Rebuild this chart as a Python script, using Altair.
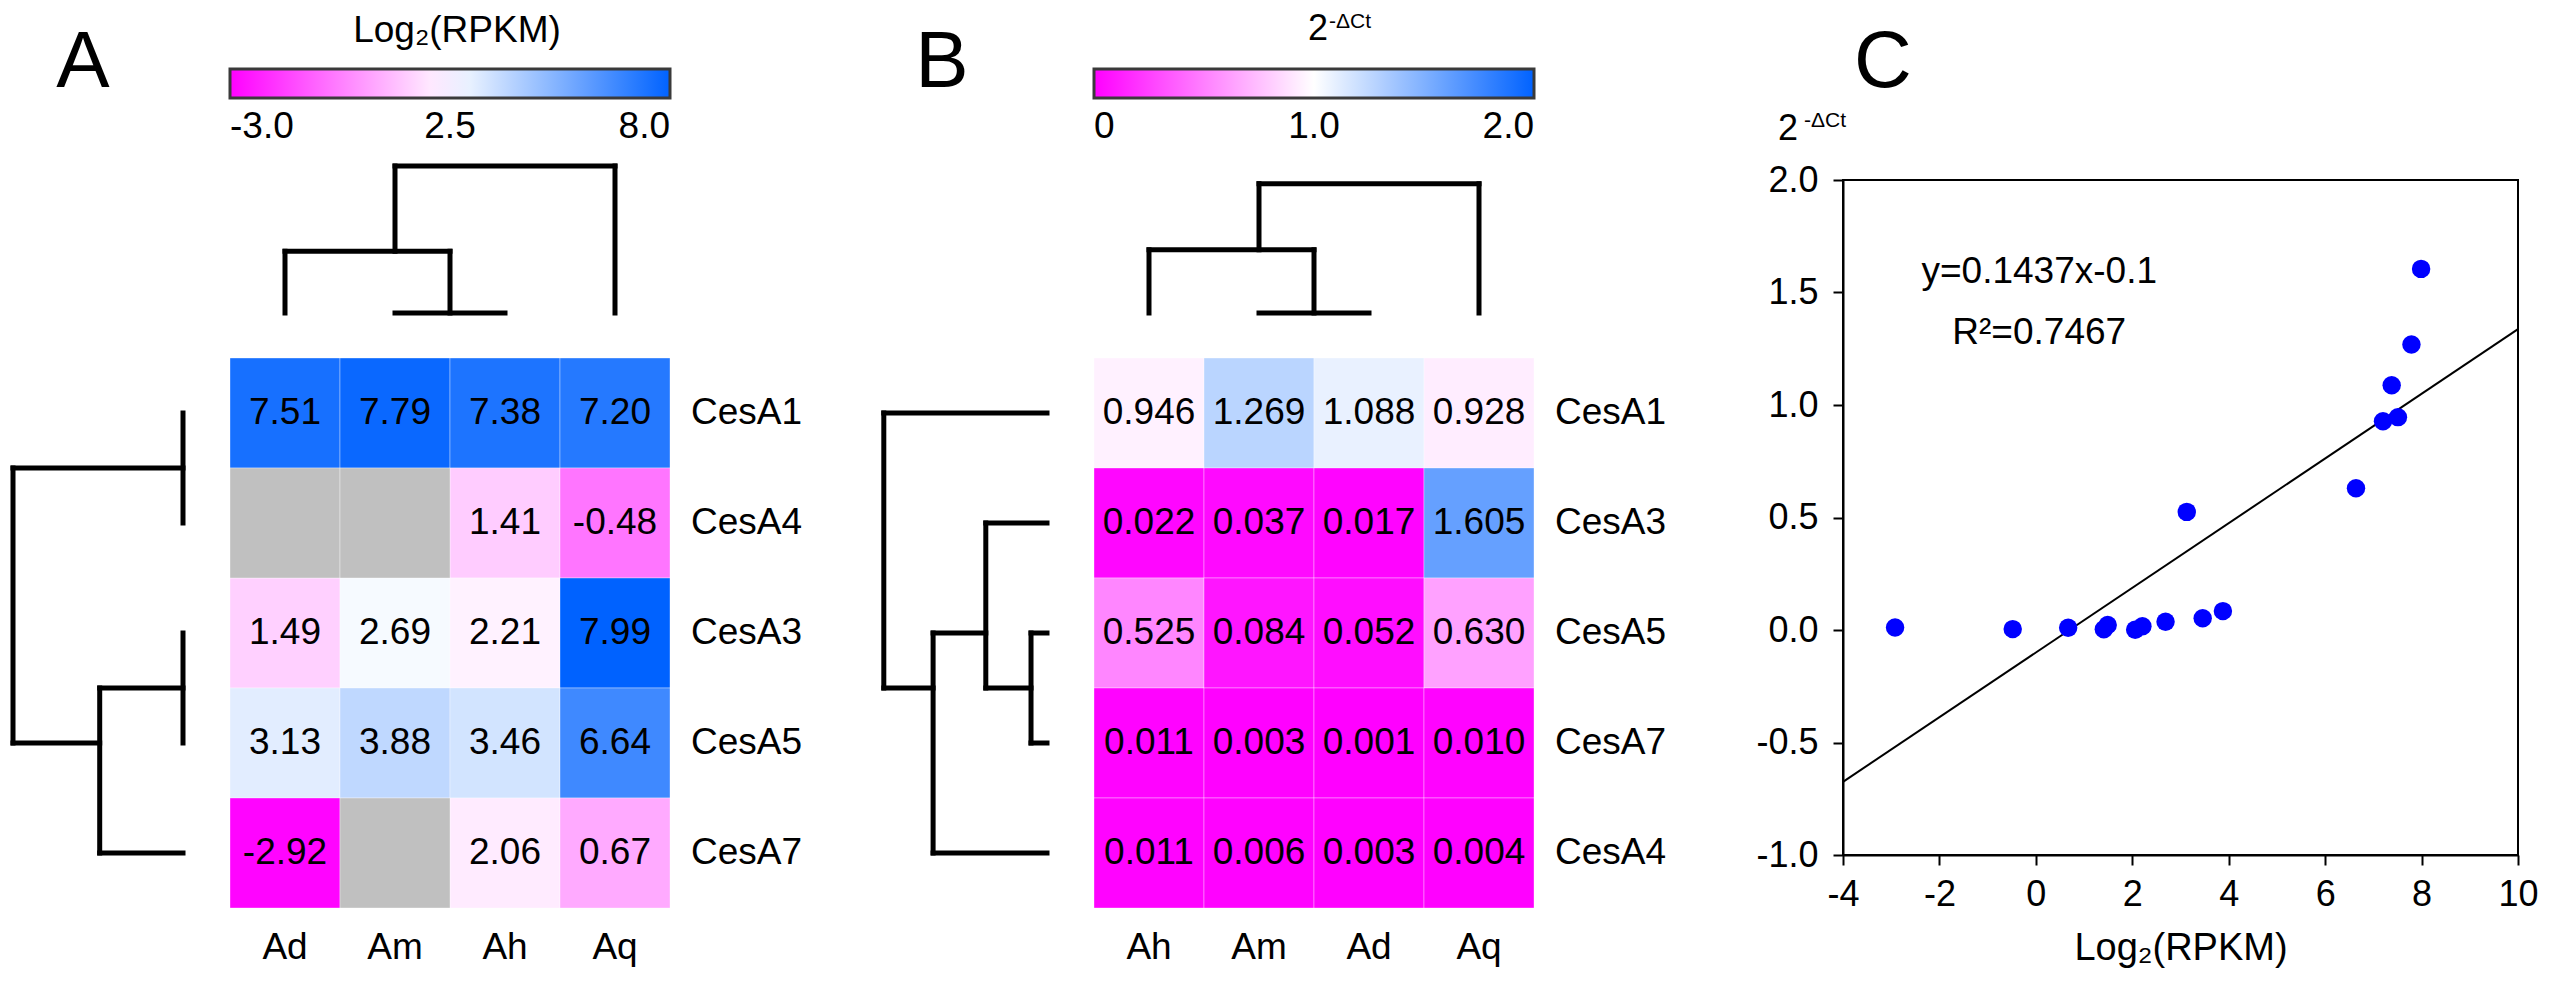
import altair as alt
import pandas as pd

FONT = "Liberation Sans"

# ---------------- Panel A : Log2(RPKM) heatmap ----------------
cols_A = ["Ad", "Am", "Ah", "Aq"]
rows_A = ["CesA1", "CesA4", "CesA3", "CesA5", "CesA7"]
vals_A = [
    [7.51, 7.79, 7.38, 7.20],
    [None, None, 1.41, -0.48],
    [1.49, 2.69, 2.21, 7.99],
    [3.13, 3.88, 3.46, 6.64],
    [-2.92, None, 2.06, 0.67],
]
# dendrogram merges: (child, child, height); "#k" refers to the k-th merge
dend_A_cols = [("Am", "Ah", 0.0), ("Ad", "#0", 0.42), ("#1", "Aq", 1.0)]
dend_A_rows = [("CesA1", "CesA4", 0.0), ("CesA3", "CesA5", 0.0),
               ("#1", "CesA7", 0.49), ("#0", "#2", 1.0)]
legend_A_domain = [-3.0, 2.5, 8.0]

# ---------------- Panel B : 2^-dCt heatmap ----------------
cols_B = ["Ah", "Am", "Ad", "Aq"]
rows_B = ["CesA1", "CesA3", "CesA5", "CesA7", "CesA4"]
vals_B = [
    [0.946, 1.269, 1.088, 0.928],
    [0.022, 0.037, 0.017, 1.605],
    [0.525, 0.084, 0.052, 0.630],
    [0.011, 0.003, 0.001, 0.010],
    [0.011, 0.006, 0.003, 0.004],
]
dend_B_cols = [("Am", "Ad", 0.0), ("Ah", "#0", 0.43), ("#1", "Aq", 0.88)]
dend_B_rows = [("CesA5", "CesA7", 0.094), ("CesA3", "#0", 0.36),
               ("#1", "CesA4", 0.67), ("CesA1", "#2", 0.96)]
legend_B_domain = [0.0, 1.0, 2.0]

# ---------------- Panel C : scatter ----------------
c_x = [-2.92, -0.48, 0.67, 1.41, 1.49, 2.06, 2.21, 2.69, 3.13, 3.46, 3.88,
       6.64, 7.20, 7.38, 7.51, 7.79, 7.99]
c_y = [0.011, 0.004, 0.010, 0.003, 0.022, 0.001, 0.017, 0.037, 0.525, 0.052, 0.084,
       0.630, 0.928, 1.088, 0.946, 1.269, 1.605]
fit_slope = 0.1437
fit_intercept = -0.1
fit_r2 = 0.7467
fit_x = [-4, 10]
c_xticks = [-4, -2, 0, 2, 4, 6, 8, 10]
c_yticks = [-1.0, -0.5, 0.0, 0.5, 1.0, 1.5, 2.0]

COLORS = ["#ff00ff", "#ffffff", "#0062ff"]
MISSING = "#c0c0c0"

# layout (pixels inside each panel)
COL_RANGE = [222, 662]
ROW_RANGE = [350, 900]
RD_RANGE = [175, 5]
CD_RANGE = [305, 158]
PANEL_H = 960

one = pd.DataFrame({"k": [0]})


def heat_df(rows, cols, vals, decimals):
    recs = []
    for ri, r in enumerate(rows):
        for ci, c in enumerate(cols):
            v = vals[ri][ci]
            recs.append({"row": r, "col": c, "ri": ri, "ci": ci,
                         "v": v, "has": v is not None,
                         "lab": "" if v is None else f"{v:.{decimals}f}"})
    return pd.DataFrame(recs)


def dendro_segments(merges, leaves):
    pos = {n: float(i) for i, n in enumerate(leaves)}
    hgt = {n: 0.0 for n in leaves}
    mem = {n: [i] for i, n in enumerate(leaves)}
    segs = []
    for k, (a, b, h) in enumerate(merges):
        for c in (a, b):
            if hgt[c] != h:
                segs.append({"p1": pos[c], "p2": pos[c], "h1": hgt[c], "h2": h})
        segs.append({"p1": pos[a], "p2": pos[b], "h1": h, "h2": h})
        key = f"#{k}"
        mem[key] = mem[a] + mem[b]
        pos[key] = sum(mem[key]) / len(mem[key])
        hgt[key] = h
    return pd.DataFrame(segs)


def heat_panel(rows, cols, vals, decimals, merges_c, merges_r, cdomain,
               label_expr, letter, letter_x, extra_layers, width):
    df = heat_df(rows, cols, vals, decimals)
    nx, ny = len(cols), len(rows)
    xs = alt.Scale(domain=[-0.5, nx - 0.5], range=COL_RANGE, nice=False, zero=False)
    ys = alt.Scale(domain=[-0.5, ny - 0.5], range=ROW_RANGE, nice=False, zero=False)
    hs_c = alt.Scale(domain=[0, 1], range=CD_RANGE, nice=False, zero=False)
    hs_r = alt.Scale(domain=[0, 1], range=RD_RANGE, nice=False, zero=False)

    base = alt.Chart(df).transform_calculate(
        x0="datum.ci - 0.5", x1="datum.ci + 0.5",
        y0="datum.ri - 0.5", y1="datum.ri + 0.5")

    legend = alt.Legend(
        orient="none", legendX=COL_RANGE[0], legendY=61, direction="horizontal",
        gradientLength=COL_RANGE[1] - COL_RANGE[0], gradientThickness=29,
        title=None, values=cdomain, labelExpr=label_expr,
        labelAlign="center", labelBaseline="top", labelOffset=11,
        labelFontSize=37, labelFont=FONT, labelColor="black",
        gradientStrokeColor="#3a3a3a", gradientStrokeWidth=3, padding=0)

    cells = base.transform_filter("datum.has").mark_rect(
        stroke="white", strokeWidth=1, strokeOpacity=0.35).encode(
        x=alt.X("x0:Q", scale=xs, axis=None), x2="x1:Q",
        y=alt.Y("y0:Q", scale=ys, axis=None), y2="y1:Q",
        color=alt.Color("v:Q", scale=alt.Scale(domain=cdomain, range=COLORS,
                                               interpolate="rgb"),
                        legend=legend))
    missing = base.transform_filter("!datum.has").mark_rect(
        fill=MISSING, stroke="white", strokeWidth=1, strokeOpacity=0.35).encode(
        x=alt.X("x0:Q", scale=xs, axis=None), x2="x1:Q",
        y=alt.Y("y0:Q", scale=ys, axis=None), y2="y1:Q")
    values = base.transform_filter("datum.has").mark_text(
        fontSize=37, font=FONT, color="black", baseline="middle").encode(
        x=alt.X("ci:Q", scale=xs, axis=None),
        y=alt.Y("ri:Q", scale=ys, axis=None),
        text="lab:N")
    rowlab = alt.Chart(pd.DataFrame({"name": rows, "ri": list(range(ny))})).mark_text(
        align="left", baseline="middle", dx=21, fontSize=37, font=FONT, color="black").encode(
        x=alt.XDatum(nx - 0.5, scale=xs, axis=None),
        y=alt.Y("ri:Q", scale=ys, axis=None),
        text="name:N")
    collab = alt.Chart(pd.DataFrame({"name": cols, "ci": list(range(nx))})).mark_text(
        align="center", baseline="middle", dy=40, fontSize=37, font=FONT, color="black").encode(
        x=alt.X("ci:Q", scale=xs, axis=None),
        y=alt.YDatum(ny - 0.5, scale=ys, axis=None),
        text="name:N")
    coldend = alt.Chart(dendro_segments(merges_c, cols)).mark_rule(
        color="black", strokeWidth=5, strokeCap="square").encode(
        x=alt.X("p1:Q", scale=xs, axis=None), x2="p2:Q",
        y=alt.Y("h1:Q", scale=hs_c, axis=None), y2="h2:Q")
    rowdend = alt.Chart(dendro_segments(merges_r, rows)).mark_rule(
        color="black", strokeWidth=5, strokeCap="square").encode(
        x=alt.X("h1:Q", scale=hs_r, axis=None), x2="h2:Q",
        y=alt.Y("p1:Q", scale=ys, axis=None), y2="p2:Q")
    letter_layer = alt.Chart(one).mark_text(
        text=letter, fontSize=80, font=FONT, align="center", baseline="alphabetic",
        color="black").encode(x=alt.value(letter_x), y=alt.value(79))

    return alt.layer(rowdend, coldend, cells, missing, values, rowlab, collab,
                     letter_layer, *extra_layers).resolve_scale(
        x="independent", y="independent", color="independent").properties(
        width=width, height=PANEL_H)


# colourbar titles
lgA_scale = alt.Scale(domain=[legend_A_domain[0], legend_A_domain[-1]], range=COL_RANGE,
                      nice=False, zero=False)
title_A = alt.Chart(one).mark_text(
    text="Log₂(RPKM)", fontSize=37, font=FONT, align="center", baseline="alphabetic",
    dx=7, color="black").encode(
    x=alt.XDatum(legend_A_domain[1], scale=lgA_scale, axis=None), y=alt.value(34))

lgB_scale = alt.Scale(domain=[legend_B_domain[0], legend_B_domain[-1]], range=COL_RANGE,
                      nice=False, zero=False)
title_B1 = alt.Chart(one).mark_text(
    text="2", fontSize=36, font=FONT, align="center", baseline="alphabetic",
    dx=4, color="black").encode(
    x=alt.XDatum(legend_B_domain[1], scale=lgB_scale, axis=None), y=alt.value(32))
title_B2 = alt.Chart(one).mark_text(
    text="-ΔCt", fontSize=21, font=FONT, align="left", baseline="alphabetic",
    dx=15, color="black").encode(
    x=alt.XDatum(legend_B_domain[1], scale=lgB_scale, axis=None), y=alt.value(20))

expr_A = "(datum.value < 0 ? '-' : '') + format(abs(datum.value), '.1f')"
expr_B = "datum.value == 0 ? '0' : format(datum.value, '.1f')"

panel_A = heat_panel(rows_A, cols_A, vals_A, 2, dend_A_cols, dend_A_rows,
                     legend_A_domain, expr_A, "A", 75, [title_A], 864)
panel_B = heat_panel(rows_B, cols_B, vals_B, 3, dend_B_cols, dend_B_rows,
                     legend_B_domain, expr_B, "B", 70, [title_B1, title_B2], 971)

# ---------------- Panel C ----------------
head_C = alt.layer(
    alt.Chart(one).mark_text(text="C", fontSize=80, font=FONT, align="center",
                             baseline="alphabetic", color="black").encode(
        x=alt.value(40), y=alt.value(79)),
    alt.Chart(one).mark_text(text="2", fontSize=36, font=FONT, align="center",
                             baseline="alphabetic", color="black").encode(
        x=alt.value(-55), y=alt.value(132)),
    alt.Chart(one).mark_text(text="-ΔCt", fontSize=21, font=FONT, align="left",
                             baseline="alphabetic", color="black").encode(
        x=alt.value(-39), y=alt.value(119)),
).properties(width=675, height=172)

xs_c = alt.Scale(domain=[-4, 10], nice=False, zero=False)
ys_c = alt.Scale(domain=[-1, 2], nice=False, zero=False)
axis_common = dict(grid=False, domainColor="black", domainWidth=2, tickColor="black",
                   tickWidth=2, tickSize=10, labelFontSize=36, labelColor="black",
                   labelFont=FONT, labelFlush=False, labelOverlap=False)
x_axis = alt.Axis(values=c_xticks, labelPadding=12,
                  labelExpr="(datum.value < 0 ? '-' : '') + format(abs(datum.value), 'd')",
                  title="Log₂(RPKM)", titleFontSize=38, titleFont=FONT, titleColor="black",
                  titleFontWeight="normal", titlePadding=17, **axis_common)
y_axis = alt.Axis(values=c_yticks, labelPadding=15,
                  labelExpr="(datum.value < 0 ? '-' : '') + format(abs(datum.value), '.1f')",
                  title=None, **axis_common)

pts = alt.Chart(pd.DataFrame({"x": c_x, "y": c_y})).mark_circle(
    size=340, color="#0000ff", opacity=1).encode(
    x=alt.X("x:Q", scale=xs_c, axis=x_axis),
    y=alt.Y("y:Q", scale=ys_c, axis=y_axis))
fit_line = alt.Chart(pd.DataFrame({"x": fit_x})).transform_calculate(
    y=f"{fit_slope} * datum.x + ({fit_intercept})").mark_line(
    color="black", strokeWidth=2).encode(
    x=alt.X("x:Q", scale=xs_c), y=alt.Y("y:Q", scale=ys_c))
eq_text = alt.Chart(one).mark_text(
    text=f"y={fit_slope}x{fit_intercept}", fontSize=37, font=FONT, color="black",
    baseline="middle").encode(x=alt.XDatum(0.07), y=alt.YDatum(1.59))
r2_text = alt.Chart(one).mark_text(
    text=f"R²={fit_r2}", fontSize=37, font=FONT, color="black",
    baseline="middle").encode(x=alt.XDatum(0.07), y=alt.YDatum(1.32))

scatter_C = alt.layer(fit_line, pts, eq_text, r2_text).properties(
    width=675, height=675, view=alt.ViewBackground(stroke="black", strokeWidth=2))

panel_C = alt.vconcat(head_C, scatter_C, spacing=0, bounds="flush")

chart = alt.hconcat(panel_A, panel_B, panel_C, spacing=0, bounds="flush").properties(
    padding=0, background="white").configure(font=FONT).configure_view(stroke=None)

chart.save("out.html", embed_options={"renderer": "svg", "actions": False})
